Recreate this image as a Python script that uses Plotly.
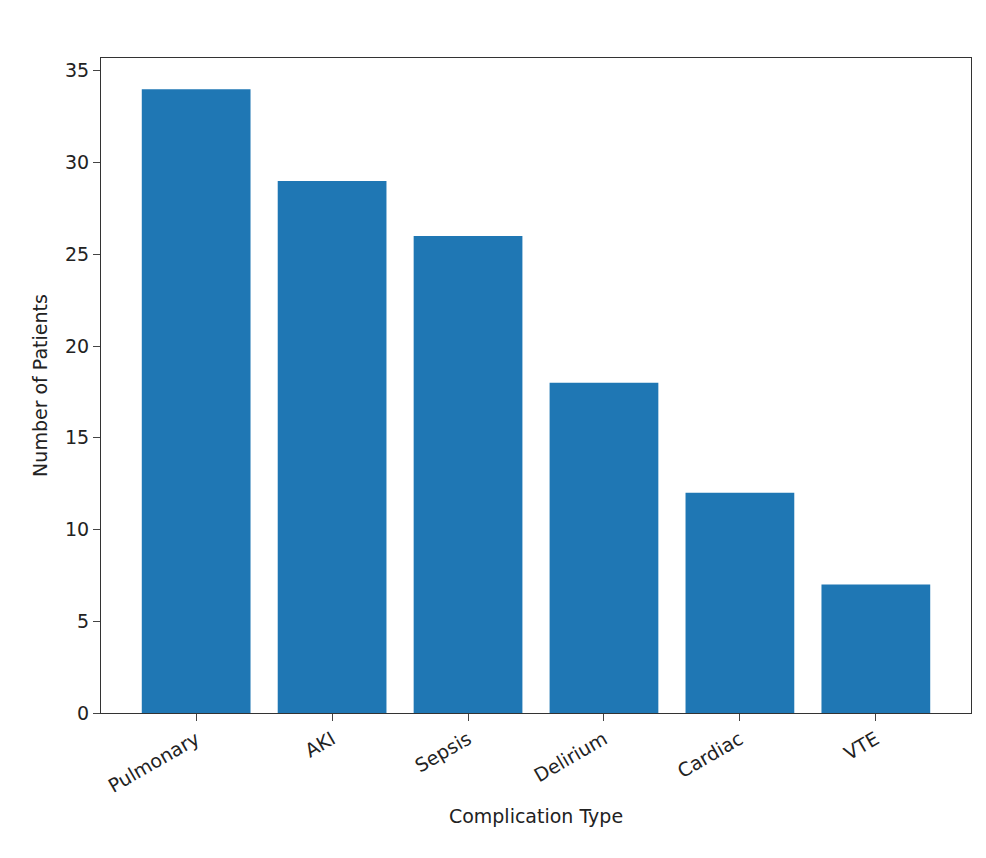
import plotly.graph_objects as go

categories = ["Pulmonary", "AKI", "Sepsis", "Delirium", "Cardiac", "VTE"]
values = [34, 29, 26, 18, 12, 7]

fig = go.Figure(go.Bar(x=list(range(len(categories))), y=values, width=0.8,
                       marker=dict(color="#1f77b4", line=dict(width=0))))
fig.update_layout(
    width=986, height=858, plot_bgcolor="white", paper_bgcolor="white",
    margin=dict(l=93, r=23, t=50, b=153),
    font=dict(family="DejaVu Sans", size=19, color="#222"),
    showlegend=False,
)
fig.update_xaxes(range=[-0.7, 5.7], tickvals=list(range(len(categories))), ticktext=categories,
                 tickangle=-30, ticks="outside", ticklen=7, showline=True, linecolor="#333",
                 mirror=True, showgrid=False, zeroline=False,
                 title=dict(text="Complication Type", standoff=14, font=dict(size=19)))
fig.update_yaxes(range=[0, 35.7], tickvals=[0, 5, 10, 15, 20, 25, 30, 35], ticks="outside",
                 ticklen=7, showline=True, linecolor="#333", mirror=True, showgrid=False,
                 zeroline=False, title=dict(text="Number of Patients", standoff=12, font=dict(size=19)))
fig.write_html("out.html")
